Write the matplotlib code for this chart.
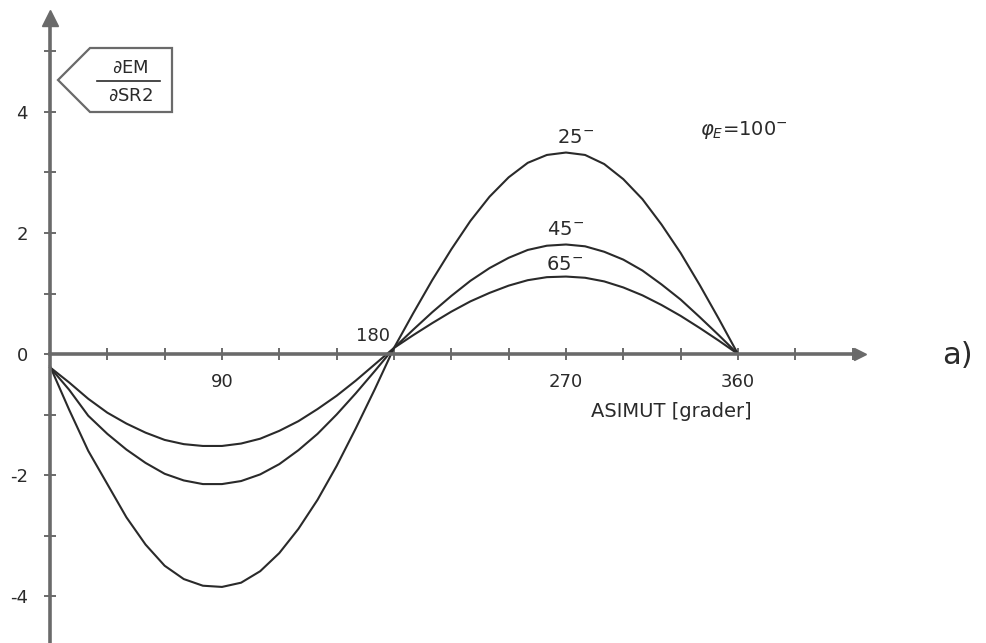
import matplotlib.pyplot as plt
from matplotlib.patches import Polygon

# asimut i grader, var 10:e grad
asimut = [0, 10, 20, 30, 40, 50, 60, 70, 80, 90, 100, 110, 120, 130, 140, 150, 160, 170, 180,
          190, 200, 210, 220, 230, 240, 250, 260, 270, 280, 290, 300, 310, 320, 330, 340, 350, 360]

# dEM/dSR2 for zenitvinkel 25, 45 och 65 (phi_E = 100)
z25 = [-0.2, -0.92, -1.6, -2.15, -2.7, -3.15, -3.5, -3.72, -3.83, -3.85,
       -3.78, -3.59, -3.29, -2.89, -2.41, -1.85, -1.23, -0.58, 0.1,
       0.67, 1.22, 1.73, 2.2, 2.6, 2.92, 3.16, 3.29, 3.33,
       3.29, 3.14, 2.89, 2.56, 2.14, 1.67, 1.14, 0.58, 0.0]
z45 = [-0.22, -0.59, -1.02, -1.32, -1.58, -1.8, -1.98, -2.09, -2.15, -2.15,
       -2.1, -1.99, -1.82, -1.59, -1.32, -1.0, -0.65, -0.28, 0.1,
       0.4, 0.69, 0.96, 1.21, 1.42, 1.59, 1.72, 1.79, 1.81,
       1.78, 1.69, 1.56, 1.38, 1.15, 0.9, 0.61, 0.31, 0.0]
z65 = [-0.22, -0.47, -0.74, -0.97, -1.15, -1.3, -1.42, -1.49, -1.52, -1.52,
       -1.48, -1.4, -1.27, -1.11, -0.91, -0.69, -0.44, -0.17, 0.1,
       0.31, 0.51, 0.7, 0.87, 1.01, 1.13, 1.22, 1.27, 1.28,
       1.26, 1.2, 1.1, 0.97, 0.81, 0.63, 0.43, 0.22, 0.0]
kurvor = [("25", z25), ("45", z45), ("65", z65)]

ytick_varden = [-4, -3, -2, -1, 0, 1, 2, 3, 4, 5]
ytick_text = ["-4", "", "-2", "", "0", "", "2", "", "4", ""]
xtick_varden = [0, 30, 60, 90, 120, 150, 180, 210, 240, 270, 300, 330, 360, 390, 420]
xtick_text = ["", "", "", "90", "", "", "", "", "", "270", "", "", "360", "", ""]

W, H = 986, 643
px_grad = 1.911   # pixlar per grad
px_enhet = 60.5   # pixlar per enhet
x0, y0 = 50, 354  # origo i pixlar

ink = "#2a2a2a"
axel = "#6a6a6a"

fig = plt.figure(figsize=(W / 100, H / 100), dpi=100)
ax = fig.add_axes([0, 0, 1, 1])
ax.set_xlim(-x0 / px_grad, (W - x0) / px_grad)
ax.set_ylim((y0 - H) / px_enhet, y0 / px_enhet)

for s in ["top", "right"]:
    ax.spines[s].set_visible(False)
ax.spines["left"].set_position(("data", 0))
ax.spines["bottom"].set_position(("data", 0))
ax.spines["left"].set_bounds(-4.78, 5.4)
ax.spines["bottom"].set_bounds(0, 422)
for s in ["left", "bottom"]:
    ax.spines[s].set_color(axel)
    ax.spines[s].set_linewidth(2.6)

# pilspetsar på axlarna
ax.plot([0], [5.55], marker="^", markersize=11, color=axel, clip_on=False)
ax.plot([424], [0], marker=">", markersize=9, color=axel, clip_on=False)

ax.set_yticks(ytick_varden)
ax.set_yticklabels(ytick_text)
ax.set_xticks(xtick_varden)
ax.set_xticklabels(xtick_text)
ax.tick_params(direction="inout", length=8, width=1.4, color=axel,
               labelsize=13, labelcolor=ink)
ax.tick_params(axis="y", pad=12)
ax.tick_params(axis="x", pad=10)

for namn, v in kurvor:
    ax.plot(asimut, v, color=ink, lw=1.5)

ax.text(178, 0.15, "180", ha="right", va="bottom", fontsize=13, color=ink)
ax.text(325, -0.95, "ASIMUT [grader]", ha="center", va="center", fontsize=14, color=ink)

# etiketter vid kurvornas maxvärden
ax.text(275, 3.42, r"25$^{-}$", ha="center", va="bottom", fontsize=14, color=ink)
ax.text(270, 1.9, r"45$^{-}$", ha="center", va="bottom", fontsize=14, color=ink)
ax.text(269, 1.33, r"65$^{-}$", ha="center", va="bottom", fontsize=14, color=ink)
ax.text(340, 3.7, r"$\varphi_{E}$=100$^{-}$", ha="left", va="center", fontsize=14, color=ink)

fig.text(957 / W, 1 - 356 / H, "a)", ha="center", va="center", fontsize=22, color=ink)

# rutan med derivatan, pekar mot y-axeln
ruta = [(58, 80), (90, 48), (172, 48), (172, 112), (90, 112)]
ruta = [(x / W, 1 - y / H) for x, y in ruta]
fig.patches.append(Polygon(ruta, closed=True, fill=False, edgecolor=axel, lw=1.6,
                           transform=fig.transFigure))
fig.text(130 / W, 1 - 68 / H, r"$\partial$EM", ha="center", va="center", fontsize=13, color=ink)
fig.text(130 / W, 1 - 96 / H, r"$\partial$SR2", ha="center", va="center", fontsize=13, color=ink)
fig.add_artist(plt.Line2D([97 / W, 160 / W], [1 - 81 / H, 1 - 81 / H], color=ink, lw=1.2))

fig.savefig("out.png", dpi=100, facecolor="white")
